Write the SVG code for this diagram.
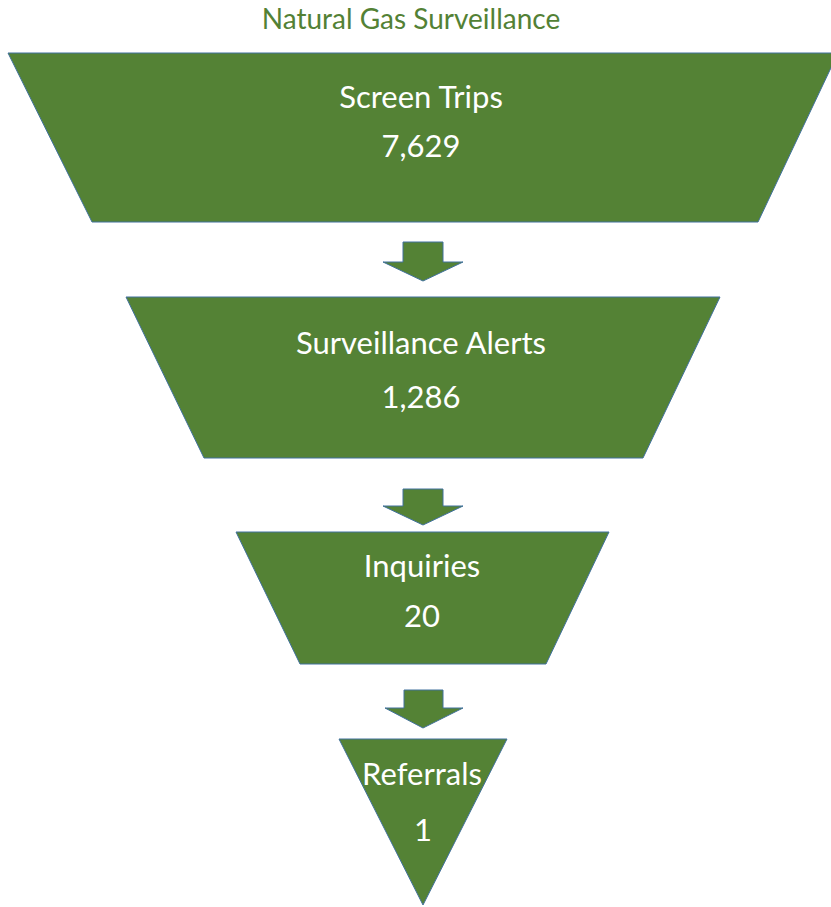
<svg xmlns="http://www.w3.org/2000/svg" width="831" height="907" viewBox="0 0 831 907">
<style>
.shape{fill:#548235;stroke:#41719C;stroke-width:1}
.lbl{font-family:Lato,"Open Sans","Liberation Sans",sans-serif;font-size:31px;fill:#ffffff;text-anchor:middle}
.title{font-family:Lato,"Open Sans","Liberation Sans",sans-serif;font-size:28px;fill:#538135;text-anchor:middle}
</style>
<rect width="831" height="907" fill="#ffffff"/>
<text class="title" x="411" y="29">Natural Gas Surveillance</text>
<g id="screen-trips">
<polygon class="shape" points="8,53 838,53 758,222 92,222"/>
<text class="lbl" x="421" y="108">Screen Trips</text>
<text class="lbl" x="421" y="157">7,629</text>
</g>
<g id="surveillance-alerts">
<polygon class="shape" points="126,297 720,297 643,458 204,458"/>
<text class="lbl" x="421" y="354">Surveillance Alerts</text>
<text class="lbl" x="421" y="408">1,286</text>
</g>
<g id="inquiries">
<polygon class="shape" points="236,532 609,532 546,664 300,664"/>
<text class="lbl" x="422" y="577">Inquiries</text>
<text class="lbl" x="422" y="627">20</text>
</g>
<g id="referrals">
<polygon class="shape" points="339,739 507,739 423,905"/>
<text class="lbl" x="422" y="785">Referrals</text>
<text class="lbl" x="423" y="841">1</text>
</g>
<g id="connectors">
<polygon class="shape" points="403,242 443,242 443,262 463,262 423,281 383,262 403,262"/>
<polygon class="shape" points="403,489 443,489 443,506 463,506 423,525 383,506 403,506"/>
<polygon class="shape" points="404,690 443,690 443,708 463,708 423,728 385,708 404,708"/>
</g>
</svg>
